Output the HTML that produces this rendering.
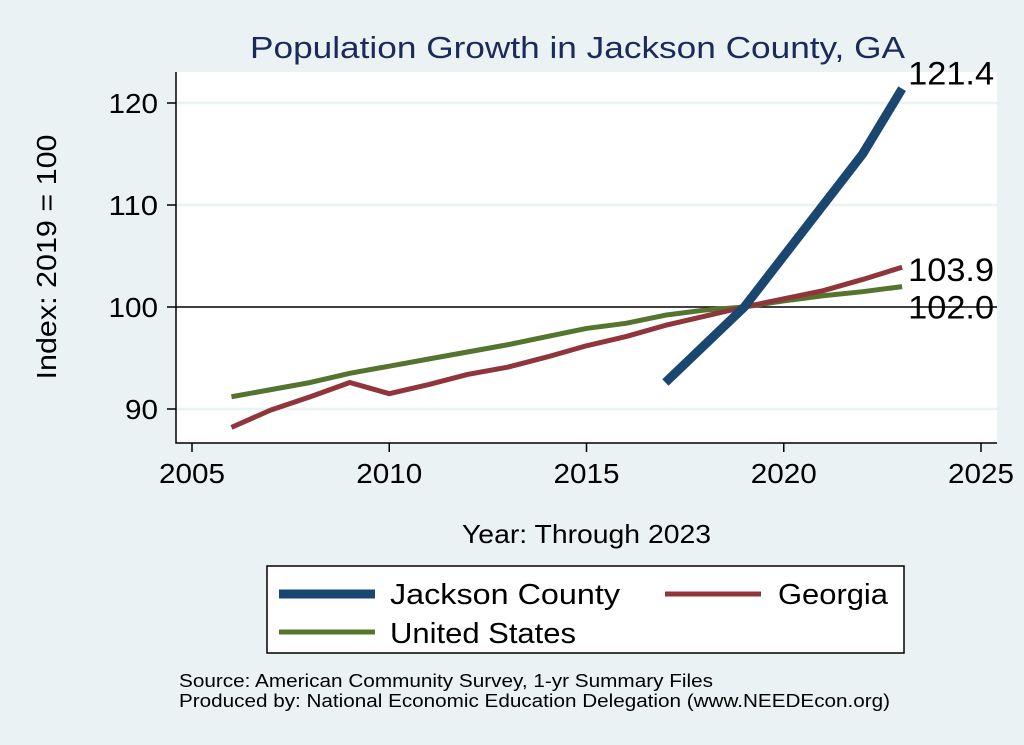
<!DOCTYPE html>
<html><head><meta charset="utf-8"><style>
body{margin:0;background:#eaf2f3;font-family:"Liberation Sans",sans-serif}
svg{display:block}
</style></head><body>
<svg id="c" width="1024" height="745">
<rect x="0" y="0" width="1024" height="745" fill="#eaf2f3"/>
<rect x="176" y="72" width="821" height="371" fill="#fff"/>
<text x="250" y="58" font-size="31" fill="#1a2b5a" textLength="655" lengthAdjust="spacingAndGlyphs">Population Growth in Jackson County, GA</text>
<text transform="translate(56,257) rotate(-90)" font-size="28" text-anchor="middle" textLength="245" lengthAdjust="spacingAndGlyphs">Index: 2019 = 100</text>
<text x="462" y="543" font-size="26" textLength="249" lengthAdjust="spacingAndGlyphs">Year: Through 2023</text>
<g id="grid"></g><g id="axes"></g><g id="series"></g><g id="labels"></g>
<rect x="267" y="566" width="637" height="87" fill="#fff" stroke="#000" stroke-width="1.5"/>
<g><line x1="279" y1="594" x2="375" y2="594" stroke="#1a476f" stroke-width="9"/><text x="390" y="604" font-size="29" textLength="230" lengthAdjust="spacingAndGlyphs">Jackson  County</text></g>
<g><line x1="665" y1="594" x2="761" y2="594" stroke="#90353b" stroke-width="5"/><text x="778" y="604" font-size="29" textLength="110" lengthAdjust="spacingAndGlyphs">Georgia</text></g>
<g><line x1="279" y1="632" x2="375" y2="632" stroke="#55752f" stroke-width="5"/><text x="390" y="643" font-size="29" textLength="186" lengthAdjust="spacingAndGlyphs">United States</text></g>
<text x="179" y="687" font-size="18" textLength="534" lengthAdjust="spacingAndGlyphs">Source: American Community Survey, 1-yr Summary Files</text>
<text x="179" y="707" font-size="18" textLength="711" lengthAdjust="spacingAndGlyphs">Produced by: National Economic Education Delegation (www.NEEDEcon.org)</text>
</svg>
<script>
const years=[2006,2007,2008,2009,2010,2011,2012,2013,2014,2015,2016,2017,2018,2019,2020,2021,2022,2023];
const jacksonYears=[2017,2018,2019,2020,2021,2022,2023];
const jackson=[92.6,96.3,100,105,110,115,121.4];
const georgia=[88.2,89.9,91.2,92.6,91.5,92.4,93.4,94.1,95.1,96.2,97.1,98.2,99.1,100,100.8,101.6,102.7,103.9];
const us=[91.2,91.9,92.6,93.5,94.2,94.9,95.6,96.3,97.1,97.9,98.4,99.2,99.7,100,100.6,101.1,101.5,102.0];
const xTicks=[2005,2010,2015,2020,2025];
const yTicks=[90,100,110,120];
const NS="http://www.w3.org/2000/svg";
const X=v=>192+(v-2005)*39.45;
const Y=v=>307-(v-100)*10.2;
function mk(t,a,p){const e=document.createElementNS(NS,t);for(const k in a)e.setAttribute(k,a[k]);document.getElementById(p).appendChild(e);return e;}
yTicks.forEach(v=>{
  const g=mk('line',{x1:176,x2:997,y1:Y(v),y2:Y(v),stroke:v===100?'#000':'#eaf2f3','stroke-width':v===100?1.5:2.5},'grid');
  
  
  const t=mk('line',{x1:167,x2:176,y1:Y(v),y2:Y(v),stroke:'#000','stroke-width':1.5},'axes');
  
  
  const s=String(v);
  const l=mk('text',{x:158,y:Y(v)+10,'font-size':28,'text-anchor':'end',textLength:s.length*16.5,lengthAdjust:'spacingAndGlyphs'},'axes');l.textContent=s;
  
  
});
xTicks.forEach(v=>{
  const t=mk('line',{x1:X(v),x2:X(v),y1:443,y2:452,stroke:'#000','stroke-width':1.5},'axes');
  
  
  const l=mk('text',{x:X(v)-33,y:483,'font-size':28,textLength:66,lengthAdjust:'spacingAndGlyphs'},'axes');l.textContent=v;
  
  
});
const ax=mk('path',{d:'M176 72 V443 H997',fill:'none',stroke:'#000','stroke-width':1.5},'axes');


function line(xs,vs,col,w,name){
  const p=mk('polyline',{points:xs.map((y,i)=>X(y)+','+Y(vs[i])).join(' '),fill:'none',stroke:col,'stroke-width':w,'stroke-linejoin':'round'},'series');
  
  
}
line(years,us,'#55752f',5,'us-line');
line(years,georgia,'#90353b',5,'georgia-line');
line(jacksonYears,jackson,'#1a476f',9,'jackson-line');
function lab(v,dy,name){
  const t=mk('text',{x:X(2023)+6,y:Y(v)+dy,'font-size':32,textLength:86,lengthAdjust:'spacingAndGlyphs'},'labels');t.textContent=v.toFixed(1);
  
  
}
lab(jackson[jackson.length-1],-4,'label-jackson-end');
lab(georgia[georgia.length-1],14,'label-georgia-end');
lab(us[us.length-1],32,'label-us-end');
</script>
</body></html>
